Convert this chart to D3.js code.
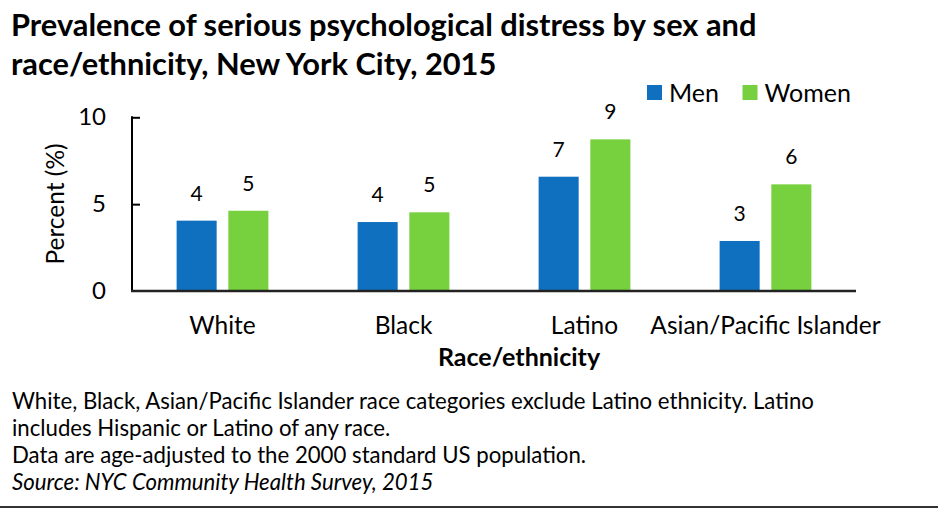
<!DOCTYPE html>
<html>
<head>
<meta charset="utf-8">
<script src="https://cdn.jsdelivr.net/npm/d3@7"></script>
<style>
  body { margin: 0; background: #fff; }
  text { font-family: Lato, "Open Sans", sans-serif; fill: #000; }
</style>
</head>
<body>
<svg id="chart" width="938" height="517"></svg>
<script>
// data
const categories = ["White", "Black", "Latino", "Asian/Pacific Islander"];
const series = ["Men", "Women"];
const men = [4.05, 3.97, 6.58, 2.88];
const women = [4.62, 4.53, 8.73, 6.14];
const menLabels = ["4", "4", "7", "3"];
const womenLabels = ["5", "5", "9", "6"];
const yTicks = [0, 5, 10];
const colors = { Men: "#1070c0", Women: "#77d13e" };
const notes = [
  "White, Black, Asian/Pacific Islander race categories exclude Latino ethnicity. Latino",
  "includes Hispanic or Latino of any race.",
  "Data are age-adjusted to the 2000 standard US population."
];
const source = "Source: NYC Community Health Survey, 2015";

const svg = d3.select("#chart");

// plot area
const plotLeft = 132, plotRight = 856, plotTop = 117.3, plotBottom = 291;

const x0 = d3.scaleBand()
  .domain(categories)
  .range([plotLeft, plotRight])
  .paddingInner(0.493)
  .paddingOuter(0.2465);

const x1 = d3.scaleBand()
  .domain(series)
  .range([0, x0.bandwidth()])
  .paddingInner(0.226);

const y = d3.scaleLinear().domain([0, 10]).range([plotBottom, plotTop]);

// title
const title = svg.append("text")
  .style("font-weight", "bold")
  .style("font-size", "30.8px");
title.append("tspan").attr("x", 11).attr("y", 36)
  .text("Prevalence of serious psychological distress by sex and");
title.append("tspan").attr("x", 11).attr("y", 75)
  .text("race/ethnicity, New York City, 2015");

// legend
const legend = svg.append("g").attr("transform", "translate(647,85)");
const legendX = { Men: 0, Women: 95.5 };
series.forEach(s => {
  const g = legend.append("g").attr("transform", `translate(${legendX[s]},0)`);
  g.append("rect").attr("width", 15).attr("height", 15).attr("fill", colors[s]);
  g.append("text").attr("x", 22).attr("y", 17)
    .style("font-size", "25px").text(s);
});

// bars
const rows = categories.map((c, i) => ({
  cat: c,
  vals: [
    { s: "Men", v: men[i], label: menLabels[i] },
    { s: "Women", v: women[i], label: womenLabels[i] }
  ]
}));

const groups = svg.append("g").selectAll("g")
  .data(rows)
  .join("g")
  .attr("transform", d => `translate(${x0(d.cat)},0)`);

groups.selectAll("rect")
  .data(d => d.vals)
  .join("rect")
  .attr("x", d => x1(d.s))
  .attr("y", d => y(d.v))
  .attr("width", x1.bandwidth())
  .attr("height", d => y(0) - y(d.v))
  .attr("fill", d => colors[d.s]);

groups.selectAll("text.val")
  .data(d => d.vals)
  .join("text")
  .attr("class", "val")
  .attr("x", d => x1(d.s) + x1.bandwidth() / 2)
  .attr("y", d => y(d.v) - 20)
  .attr("text-anchor", "middle")
  .style("font-size", "21px")
  .text(d => d.label);

// y axis, inner ticks
const yAxis = svg.append("g")
  .attr("transform", `translate(${plotLeft},0)`)
  .call(d3.axisRight(y).tickValues(yTicks).tickSize(8).tickFormat(""));
yAxis.select(".domain").remove();
yAxis.selectAll(".tick line").attr("stroke", "#000").attr("stroke-width", 2)
  .filter(d => d === 0).remove();
svg.append("line")
  .attr("x1", plotLeft).attr("x2", plotLeft)
  .attr("y1", y(10) - 1).attr("y2", plotBottom)
  .attr("stroke", "#000").attr("stroke-width", 2);

svg.append("g").selectAll("text")
  .data(yTicks)
  .join("text")
  .attr("x", 106)
  .attr("y", d => y(d) + 7.7)
  .attr("text-anchor", "end")
  .style("font-size", "24px")
  .text(d => d);

// x axis line
svg.append("line")
  .attr("x1", plotLeft - 1).attr("x2", plotRight)
  .attr("y1", plotBottom).attr("y2", plotBottom)
  .attr("stroke", "#222").attr("stroke-width", 2.5);

// category labels
svg.append("g").selectAll("text")
  .data(categories)
  .join("text")
  .attr("x", d => x0(d) + x0.bandwidth() / 2)
  .attr("y", 334)
  .attr("text-anchor", "middle")
  .style("font-size", "24.5px")
  .text(d => d);

// axis titles
svg.append("text")
  .attr("x", 519).attr("y", 366)
  .attr("text-anchor", "middle")
  .style("font-size", "25px")
  .style("font-weight", "bold")
  .text("Race/ethnicity");

svg.append("text")
  .attr("transform", "translate(63.5,204) rotate(-90)")
  .attr("text-anchor", "middle")
  .style("font-size", "24.5px")
  .text("Percent (%)");

// notes
svg.append("g").selectAll("text")
  .data(notes)
  .join("text")
  .attr("x", 12)
  .attr("y", (d, i) => 409 + i * 27)
  .style("font-size", "22.2px")
  .text(d => d);

svg.append("text")
  .attr("x", 12).attr("y", 490)
  .style("font-size", "22.2px")
  .style("font-style", "italic")
  .text(source);

svg.append("line")
  .attr("x1", 0).attr("x2", 938)
  .attr("y1", 507).attr("y2", 507)
  .attr("stroke", "#333").attr("stroke-width", 2);
</script>
</body>
</html>
